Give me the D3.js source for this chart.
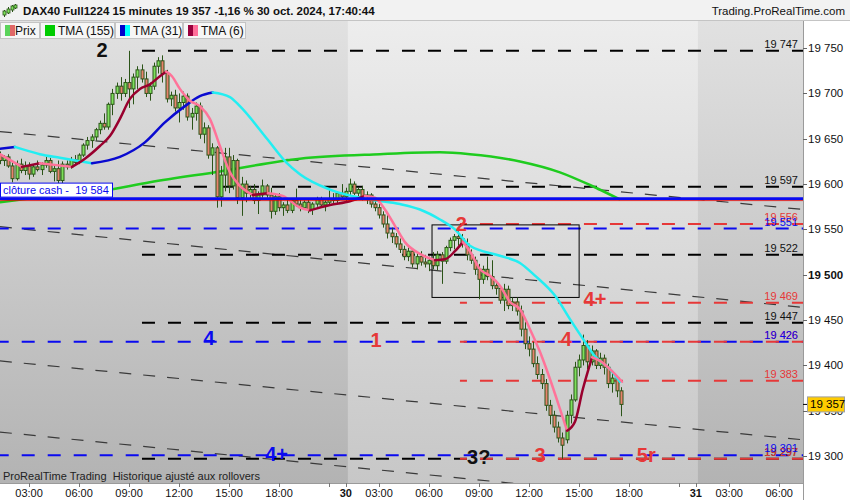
<!DOCTYPE html>
<meta charset="utf-8">
<script src="https://d3js.org/d3.v7.min.js"></script>
<style>
body{margin:0;background:#fff;font-family:"Liberation Sans",Arial,sans-serif}
</style>
<div id="chart"></div>
<script>

// axis values
var priceTicks = [19300,19350,19400,19450,19500,19550,19600,19650,19700,19750]
var timeTickBars = [8,20,32,44,56,68,80,84,92,104,116,128,140,152,164,168,176,188]
var timeTickLabels = ["03:00","06:00","09:00","12:00","15:00","18:00","","30","03:00","06:00","09:00","12:00","15:00","18:00","","31","03:00","06:00"]
var dayStarts = [84.5,168.5] // bar index of session changes (29->30, 30->31)

// 15 minute bars, 29 oct 01:00 -> 30 oct 17:30  [open, high, low, close]
var candles = [
[19636,19640,19628,19632],[19632,19636,19622,19626],[19626,19632,19620,19630],[19630,19633,19618,19620],
[19620,19624,19602,19606],[19606,19626,19604,19622],[19622,19628,19612,19615],[19615,19625,19610,19620],
[19620,19624,19605,19611],[19611,19622,19608,19619],[19619,19626,19614,19616],[19616,19624,19610,19621],
[19621,19630,19618,19626],[19626,19629,19612,19614],[19614,19620,19603,19617],[19617,19626,19600,19604],
[19604,19625,19601,19622],[19622,19626,19616,19619],[19619,19630,19617,19627],[19627,19632,19620,19624],
[19624,19634,19622,19632],[19632,19645,19630,19643],[19643,19652,19638,19648],[19648,19655,19640,19652],
[19652,19662,19648,19660],[19660,19670,19655,19667],[19667,19678,19660,19663],[19663,19690,19660,19688],
[19688,19705,19676,19700],[19700,19712,19694,19708],[19708,19718,19692,19700],[19700,19716,19696,19712],
[19712,19747,19684,19705],[19705,19722,19688,19718],[19718,19730,19705,19726],[19726,19732,19712,19716],
[19716,19724,19696,19700],[19700,19712,19692,19708],[19708,19734,19704,19730],[19730,19740,19722,19736],
[19736,19742,19712,19722],[19722,19726,19690,19694],[19694,19702,19686,19698],[19698,19704,19680,19684],
[19684,19700,19668,19690],[19690,19702,19682,19697],[19697,19700,19670,19674],[19674,19684,19660,19678],
[19678,19690,19670,19686],[19686,19690,19650,19655],[19655,19668,19645,19662],[19662,19665,19628,19632],
[19632,19645,19610,19640],[19640,19642,19574,19586],[19586,19620,19575,19610],[19610,19640,19592,19630],
[19630,19640,19590,19598],[19598,19632,19594,19626],[19626,19628,19578,19585],[19585,19608,19565,19600],
[19600,19604,19580,19590],[19590,19598,19584,19594],[19594,19600,19578,19582],[19582,19592,19567,19588],
[19588,19605,19585,19598],[19598,19600,19585,19588],[19588,19596,19562,19570],[19570,19590,19566,19586],
[19586,19590,19570,19574],[19574,19580,19565,19577],[19577,19584,19568,19571],[19571,19584,19568,19582],
[19582,19595,19575,19578],[19578,19583,19570,19574],[19574,19582,19572,19580],[19580,19584,19568,19572],
[19572,19580,19566,19578],[19578,19586,19575,19583],[19583,19586,19574,19577],[19577,19582,19570,19580],
[19580,19595,19576,19584],[19584,19590,19578,19582],[19582,19592,19578,19590],[19590,19600,19584,19586],
[19586,19596,19580,19592],[19592,19606,19588,19600],[19600,19603,19588,19590],[19590,19596,19584,19594],
[19594,19598,19582,19586],[19586,19592,19578,19588],[19588,19590,19574,19578],[19578,19584,19570,19574],
[19574,19578,19562,19566],[19566,19570,19552,19556],[19556,19568,19540,19546],[19546,19552,19535,19542],
[19542,19546,19530,19534],[19534,19540,19524,19528],[19528,19532,19516,19520],[19520,19530,19515,19526],
[19526,19528,19508,19512],[19512,19524,19506,19520],[19520,19526,19510,19514],[19514,19522,19508,19512],
[19512,19520,19504,19516],[19516,19525,19506,19510],[19510,19526,19505,19522],[19522,19525,19490,19515],
[19515,19532,19512,19530],[19530,19541,19526,19538],[19538,19545,19528,19542],[19542,19552,19532,19540],
[19540,19545,19530,19534],[19534,19540,19516,19522],[19522,19528,19512,19516],[19516,19520,19500,19506],
[19506,19512,19473,19495],[19495,19510,19490,19506],[19506,19520,19494,19498],[19498,19516,19484,19488],
[19488,19492,19478,19485],[19485,19488,19468,19472],[19472,19490,19460,19484],[19484,19488,19462,19466],
[19466,19475,19460,19470],[19470,19475,19455,19460],[19460,19466,19432,19440],[19440,19448,19418,19424],
[19424,19432,19410,19418],[19418,19426,19398,19402],[19402,19410,19385,19390],[19390,19396,19374,19380],
[19380,19385,19350,19356],[19356,19362,19335,19345],[19345,19350,19326,19332],[19332,19338,19315,19320],
[19320,19326,19297,19312],[19318,19350,19314,19345],[19345,19368,19336,19362],[19362,19404,19360,19398],
[19398,19412,19388,19406],[19406,19434,19400,19422],[19422,19428,19396,19404],[19404,19422,19400,19416],
[19416,19418,19396,19400],[19400,19414,19396,19408],[19408,19412,19390,19398],[19398,19402,19375,19380],
[19380,19392,19370,19386],[19386,19388,19365,19372],[19372,19376,19344,19357]
]

// moving averages (bar index, value)
var tma155Bars = [1,13,25,37,53.8,73,92.2,106.6,113.8,125.8,135.4,142.6,149.8]
var tma155Vals = [19580,19587,19592,19602,19614,19628,19633,19635,19633,19625,19613,19599,19583]

var tma31Bars = [1,4.6,10.6,15.4,23.1,29.8,35.8,40.6,45.4,49,52.1,56.2,58.6,65.1,69.7,73,80.2,89.8,97,101.8,106.6,110.2,113.8,121,125.8,129.4,134.2,137.8,141.4,143.8,147.4,149.8]
var tma31Vals = [19639,19641,19633,19629,19623,19630,19646,19668,19686,19697,19701,19696,19686,19650,19624,19611,19594,19583,19578,19572,19561,19550,19532,19521,19513,19499,19477,19451,19426,19410,19396,19382]

var tma6Bars = [1,6.3,10.6,18.3,21.4,25,27.4,29.8,32.2,34.6,37,39.4,40.9,42.3,44.2,46.6,49,51.4,53.8,56.2,58.6,61.7,65.3,68.9,73,75.4,80.2,85,88.6,91,93.4,95.8,98.2,101.8,105.4,107.8,110.2,112.1,113.8,116.2,118.6,121,123.4,125.8,128.2,130.6,133,135.4,137.1,139,140.9,143.1,145,147.4,150.3]
var tma6Vals = [19633,19619,19623,19619,19628,19642,19653,19672,19694,19705,19710,19719,19724,19719,19705,19692,19686,19672,19642,19613,19598,19588,19590,19587,19574,19571,19577,19581,19587,19585,19572,19554,19536,19523,19516,19517,19526,19536,19526,19506,19499,19488,19470,19462,19440,19415,19385,19352,19328,19338,19374,19409,19405,19396,19382]

// horizontal levels
var blackLevels = [19747,19597,19522,19447,19297]
var blueLevels = [19551,19426,19301]
var redLevels = [19556,19469,19426,19383,19297]
var cashClose = 19584

// trend lines: [bar1, price1, bar2, price2]
var trendLines = [
  [1,19658,193.7,19572],
  [1,19553,193.7,19464],
  [1,19405,193.7,19318],
  [1,19326.5,193.7,19238]
]

// zone rectangle [bar1, price1, bar2, price2]
var zoneBox = [104.7,19555,140,19475]

// wave annotations
var noteTexts = ["2","2","4+","4","1","4","4+","3?","3","5r"]
var noteBars = [25.5,111.7,143.8,136.9,91.3,51.2,67.4,115.9,130.6,156.1]
var notePrices = [19740,19548,19466,19421,19420,19423,19295,19291,19293,19293]
var noteColors = ["black","red","red","red","red","blue","blue","black","red","red"]

var lastPrice = 19357

var W = 850, H = 500
var plotL = 0, plotR = 803, plotT = 21, plotB = 483
var cRed = "#e63838", cBlue = "#0a0af0"

var svg = d3.select("#chart").append("svg").attr("width",W).attr("height",H)
  .style("font-family","'Liberation Sans',Arial,sans-serif")

var x = d3.scaleLinear().domain([0,150]).range([-4.3,620.8])
var y = d3.scaleLinear().domain([19300,19750]).range([456.1,48.1])

var defs = svg.append("defs")
function grad(id,c1,c2){
  var g = defs.append("linearGradient").attr("id",id).attr("x1",0).attr("y1",0).attr("x2",0).attr("y2",1)
  g.append("stop").attr("offset","0%").attr("stop-color",c1)
  g.append("stop").attr("offset","100%").attr("stop-color",c2)
}
grad("gDark","#e1e1e1","#b3b3b3")
grad("gLight","#ededed","#c7c7c7")
defs.append("clipPath").attr("id","plotClip").append("rect")
  .attr("x",plotL).attr("y",plotT).attr("width",plotR-plotL).attr("height",plotB-plotT)

// background
svg.append("rect").attr("x",plotL).attr("y",plotT).attr("width",plotR-plotL).attr("height",plotB-plotT).attr("fill","url(#gDark)")
svg.append("rect").attr("x",x(dayStarts[0])).attr("y",plotT).attr("width",x(dayStarts[1])-x(dayStarts[0]))
  .attr("height",plotB-plotT).attr("fill","url(#gLight)")

var plot = svg.append("g").attr("clip-path","url(#plotClip)")

// trend lines
plot.selectAll(".trend").data(trendLines).join("line")
  .attr("x1",d=>x(d[0])).attr("y1",d=>y(d[1])).attr("x2",d=>x(d[2])).attr("y2",d=>y(d[3]))
  .attr("stroke","#3a3a3a").attr("stroke-width",1.2).attr("stroke-dasharray","12,12")

// horizontal levels
function levels(vals,color,startBar,offset){
  plot.append("g").selectAll("line").data(vals).join("line")
    .attr("x1",x(startBar)).attr("x2",plotR).attr("y1",d=>y(d)).attr("y2",d=>y(d))
    .attr("stroke",color).attr("stroke-width",2).attr("stroke-dasharray","13,13")
    .attr("stroke-dashoffset",offset)
}
levels(blackLevels,"#000",35.1,0)
levels(blueLevels,cBlue,0,0)
levels(redLevels,cRed,111.4,6)

// zone box
plot.append("rect").attr("x",x(zoneBox[0])).attr("y",y(zoneBox[1]))
  .attr("width",x(zoneBox[2])-x(zoneBox[0])).attr("height",y(zoneBox[3])-y(zoneBox[1]))
  .attr("fill","none").attr("stroke","#000").attr("stroke-width",1)

// moving averages
function pts(bars,vals){ return bars.map((b,i)=>[b,vals[i]]) }
var lineGen = d3.line().x(d=>x(d[0])).y(d=>y(d[1])).curve(d3.curveMonotoneX)

plot.append("path").datum(pts(tma155Bars,tma155Vals)).attr("d",lineGen)
  .attr("fill","none").attr("stroke","#1fcc1f").attr("stroke-width",2.5)

// candles
var cw = 3
var cg = plot.append("g")
cg.selectAll(".wick").data(candles).join("line")
  .attr("x1",(d,i)=>Math.round(x(i))+0.5).attr("x2",(d,i)=>Math.round(x(i))+0.5)
  .attr("y1",d=>y(d[1])).attr("y2",d=>y(d[2]))
  .attr("stroke","#2b5418").attr("stroke-width",1)
cg.selectAll(".body").data(candles).join("rect")
  .attr("x",(d,i)=>Math.round(x(i))-1)
  .attr("y",d=>y(Math.max(d[0],d[3])))
  .attr("width",cw)
  .attr("height",d=>Math.max(1,Math.abs(y(d[0])-y(d[3]))))
  .attr("fill",d=>d[3]>=d[0]?"#7ee05c":"#e8826e")
  .attr("stroke","#2b5418").attr("stroke-width",1)

function trend(bars,vals,upColor,downColor,width){
  var p = pts(bars,vals)
  var runs = [], cur = [p[0]], dir = null
  for(var k=1;k<p.length;k++){
    var d = p[k][1]>=p[k-1][1] ? 1 : -1
    if(dir!==null && d!==dir){ runs.push({dir:dir,pts:cur}); cur=[p[k-1]] }
    dir = d
    cur.push(p[k])
  }
  runs.push({dir:dir,pts:cur})
  plot.append("g").selectAll("path").data(runs).join("path")
    .attr("d",r=>lineGen(r.pts))
    .attr("fill","none").attr("stroke",r=>r.dir>0?upColor:downColor)
    .attr("stroke-width",width).attr("stroke-linecap","round")
}
trend(tma31Bars,tma31Vals,"#0a0ad0","#22eef2",2.5)
trend(tma6Bars,tma6Vals,"#99002e","#ff7399",2.5)

// cash close line
plot.append("line").attr("x1",plotL).attr("x2",plotR).attr("y1",y(cashClose)+2).attr("y2",y(cashClose)+2)
  .attr("stroke","#e00000").attr("stroke-width",0.8)
plot.append("line").attr("x1",plotL).attr("x2",plotR).attr("y1",y(cashClose)).attr("y2",y(cashClose))
  .attr("stroke",cBlue).attr("stroke-width",2.6)
svg.append("rect").attr("x",0.5).attr("y",y(cashClose)-15.5).attr("width",112).attr("height",14)
  .attr("fill","#fff").attr("stroke",cBlue).attr("stroke-width",1)
svg.append("text").attr("x",3).attr("y",y(cashClose)-4.5).attr("font-size",11).attr("fill",cBlue)
  .text("clôture cash -\u00a0 19 584")

// level value labels
var fmt = v => d3.format(",")(v).replace(",", " ")
function levelLabels(vals,color){
  svg.append("g").selectAll("text").data(vals).join("text")
    .attr("x",798).attr("y",d=>y(d)-3).attr("text-anchor","end")
    .attr("font-size",11).attr("fill",color).text(d=>fmt(d))
}
levelLabels(blackLevels,"#111")
levelLabels(redLevels,cRed)
levelLabels(blueLevels,cBlue)

// wave annotations
var colorMap = {black:"#111",red:cRed,blue:cBlue}
svg.append("g").selectAll("text").data(noteTexts).join("text")
  .attr("x",(d,i)=>x(noteBars[i])).attr("y",(d,i)=>y(notePrices[i]))
  .attr("text-anchor","middle").attr("font-size",20).attr("font-weight","bold")
  .attr("fill",(d,i)=>colorMap[noteColors[i]]).text(d=>d)

svg.append("text").attr("x",3).attr("y",480).attr("font-size",11).attr("fill","#222")
  .text("ProRealTime Trading\u00a0 Historique ajusté aux rollovers")

// right axis
svg.append("rect").attr("x",plotR).attr("y",plotT).attr("width",W-plotR).attr("height",plotB-plotT).attr("fill","#fff")
svg.append("line").attr("x1",plotR+0.5).attr("x2",plotR+0.5).attr("y1",plotT).attr("y2",plotB).attr("stroke","#9a9a9a")
var ya = svg.append("g")
ya.selectAll("line").data(priceTicks).join("line")
  .attr("x1",plotR).attr("x2",plotR+4).attr("y1",d=>Math.round(y(d))+0.5).attr("y2",d=>Math.round(y(d))+0.5)
  .attr("stroke","#666")
ya.selectAll("text").data(priceTicks).join("text")
  .attr("x",plotR+5).attr("y",d=>y(d)+4).attr("font-size",11.5).attr("fill","#111")
  .attr("font-weight",d=>d==19500?"bold":"normal").text(d=>fmt(d))
// last price tag
svg.append("line").attr("x1",plotR).attr("x2",plotR+4).attr("y1",y(lastPrice)).attr("y2",y(lastPrice)).attr("stroke","#000")
svg.append("rect").attr("x",plotR+4.5).attr("y",y(lastPrice)-7.5).attr("width",37).attr("height",15)
  .attr("fill","#ffcc00").attr("stroke","#a0a0a0")
svg.append("text").attr("x",plotR+7).attr("y",y(lastPrice)+4).attr("font-size",11.5).attr("fill","#000").text(fmt(lastPrice))

// bottom axis
svg.append("rect").attr("x",0).attr("y",plotB).attr("width",W).attr("height",H-plotB).attr("fill","#fff")
svg.append("line").attr("x1",0).attr("x2",plotR).attr("y1",plotB+0.5).attr("y2",plotB+0.5).attr("stroke","#9a9a9a")
var xa = svg.append("g")
xa.selectAll("line").data(timeTickBars).join("line")
  .attr("x1",d=>Math.round(x(d))+0.5).attr("x2",d=>Math.round(x(d))+0.5).attr("y1",plotB).attr("y2",plotB+4)
  .attr("stroke","#777")
xa.selectAll("text").data(timeTickBars).join("text")
  .attr("x",d=>x(d)).attr("y",497).attr("text-anchor","middle").attr("font-size",11)
  .attr("font-weight",(d,i)=>timeTickLabels[i].length<3?"bold":"normal").attr("fill","#111")
  .text((d,i)=>timeTickLabels[i])
svg.append("line").attr("x1",plotR+0.5).attr("x2",plotR+0.5).attr("y1",plotB).attr("y2",H).attr("stroke","#9a9a9a")

// header
svg.append("rect").attr("x",0).attr("y",0).attr("width",W).attr("height",plotT).attr("fill","#f2f2f2")
svg.append("line").attr("x1",0).attr("x2",W).attr("y1",plotT-0.5).attr("y2",plotT-0.5).attr("stroke","#c4c4c4")
var icon = svg.append("g")
;[[4,8,15,9,13],[8,5,12,7,11],[12,3,10,4,8],[15,2,7,3,6]].forEach(function(c){
  icon.append("line").attr("x1",c[0]+0.5).attr("x2",c[0]+0.5).attr("y1",c[1]+2).attr("y2",c[2]+2).attr("stroke","#2b5418")
  icon.append("rect").attr("x",c[0]-1).attr("y",c[3]+2).attr("width",3).attr("height",c[4]-c[3]).attr("fill","#7ee05c").attr("stroke","#2b5418").attr("stroke-width",0.8)
})
svg.append("text").attr("x",23).attr("y",15).attr("font-size",11.5).attr("font-weight","bold").attr("fill","#111")
  .text("DAX40 Full1224 15 minutes 19 357 -1,16 % 30 oct. 2024, 17:40:44")
svg.append("text").attr("x",845).attr("y",15).attr("text-anchor","end").attr("font-size",11.5).attr("fill","#111")
  .text("Trading.ProRealTime.com")

// legend tabs
var legNames = ["Prix","TMA (155)","TMA (31)","TMA (6)"]
var legColors = [["#5ad35a","#e06868"],["#00cc00","#00cc00"],["#0000cc","#00ffff"],["#99003c","#ff6f9a"]]
var legX = [0,40,115,183], legW = [39,74,67,62]
legNames.forEach(function(n,i){
  svg.append("rect").attr("x",legX[i]+0.5).attr("y",22.5).attr("width",legW[i]).attr("height",16)
    .attr("fill","#f6f6f6").attr("stroke","#c4c4c4")
  svg.append("rect").attr("x",legX[i]+5).attr("y",25).attr("width",5).attr("height",11).attr("fill",legColors[i][0])
  svg.append("rect").attr("x",legX[i]+10).attr("y",25).attr("width",5).attr("height",11).attr("fill",legColors[i][1])
  svg.append("text").attr("x",legX[i]+(i==0?15:18)).attr("y",35).attr("font-size",12).attr("fill","#111").text(n)
})

</script>
